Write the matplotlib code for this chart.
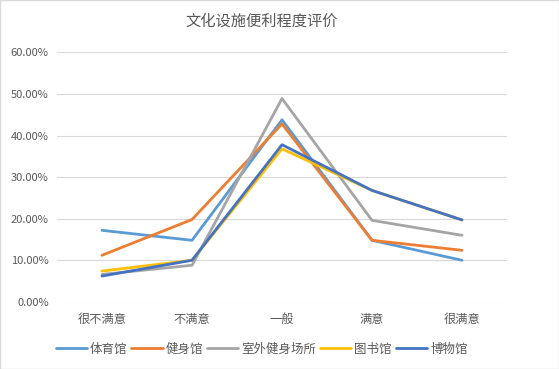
import matplotlib
matplotlib.use("Agg")
import matplotlib.pyplot as plt
from matplotlib.ticker import FuncFormatter

plt.rcParams['font.family'] = ['Noto Sans CJK SC', 'DejaVu Sans']

categories = ["很不满意", "不满意", "一般", "满意", "很满意"]
series_names = ["体育馆", "健身馆", "室外健身场所", "图书馆", "博物馆"]
tiyuguan = [0.172, 0.148, 0.438, 0.148, 0.100]
jianshenguan = [0.112, 0.198, 0.428, 0.148, 0.124]
shiwai = [0.066, 0.088, 0.489, 0.196, 0.160]
tushuguan = [0.074, 0.100, 0.368, 0.268, 0.197]
bowuguan = [0.062, 0.100, 0.378, 0.268, 0.197]
colors = ["#5B9BD5", "#ED7D31", "#A5A5A5", "#FFC000", "#4472C4"]

fig = plt.figure(figsize=(5.59, 3.69), dpi=100)
ax = fig.add_axes([0.102, 0.182, 0.805, 0.676])
x = list(range(len(categories)))
for name, vals, c in zip(series_names, [tiyuguan, jianshenguan, shiwai, tushuguan, bowuguan], colors):
    ax.plot(x, vals, color=c, lw=2.0, label=name, solid_capstyle='round')

ax.set_xlim(-0.5, 4.5)
ax.set_ylim(0, 0.6)
ax.set_yticks([0, 0.1, 0.2, 0.3, 0.4, 0.5, 0.6])
ax.yaxis.set_major_formatter(FuncFormatter(lambda v, p: f"{v*100:.2f}%"))
ax.set_xticks(x)
ax.set_xticklabels(categories)
ax.grid(axis='y', color='#D9D9D9', lw=0.8)
ax.set_axisbelow(True)
for s in ax.spines.values():
    s.set_visible(False)
ax.tick_params(axis='both', length=0, colors='#595959', labelsize=8)
ax.tick_params(axis='x', labelsize=8.8, pad=8)
ax.tick_params(axis='y', pad=6)

fig.text(0.468, 0.943, "文化设施便利程度评价", ha='center', va='center', fontsize=11, color='#595959')

leg = fig.legend(loc='center', bbox_to_anchor=(0.468, 0.054), ncol=5, frameon=False,
                 fontsize=9, handlelength=2.5, handletextpad=0.25, columnspacing=0.3)
for t in leg.get_texts():
    t.set_color('#595959')

fig.patches.append(plt.Rectangle((0, 0), 1, 1, transform=fig.transFigure, fill=False,
                                 edgecolor='#D9D9D9', lw=1.0))

fig.savefig("out.png", dpi=100)
